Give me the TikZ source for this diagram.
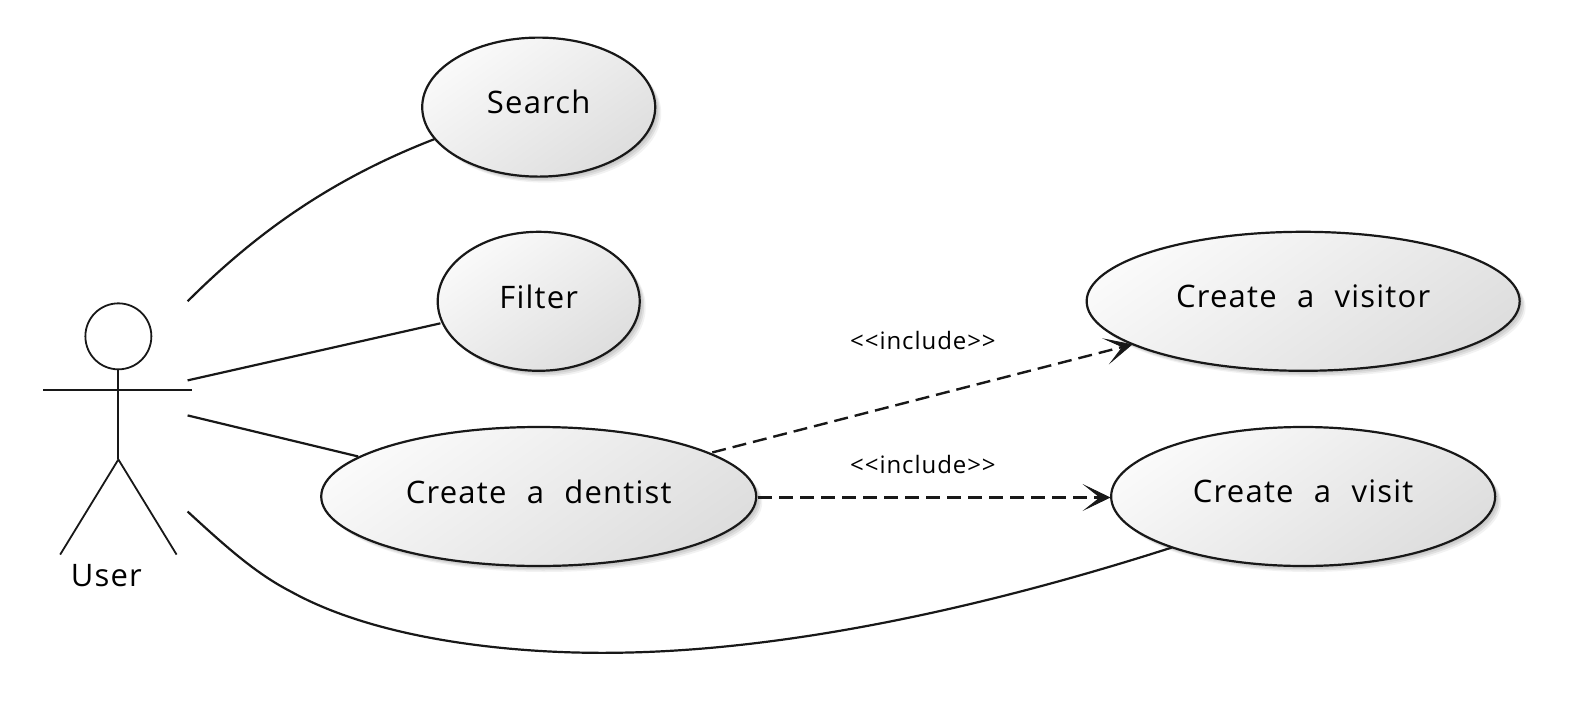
\documentclass[tikz,border=0pt]{standalone}
\usepackage{fontspec}
\setmainfont[LetterSpace=3.9,WordSpace=2.2]{Open Sans}
\usetikzlibrary{arrows.meta,shadows,calc,shapes.geometric}
\definecolor{ink}{RGB}{24,24,24}
\tikzset{
 x=1.0032bp,y=-1.001bp,
 softshadow/.style={
   drop shadow={shadow xshift=1.5bp,shadow yshift=-1.5bp,opacity=0.06,fill=black},
   drop shadow={shadow xshift=3bp,shadow yshift=-3bp,opacity=0.07,fill=black},
   drop shadow={shadow xshift=4.5bp,shadow yshift=-4.5bp,opacity=0.07,fill=black},
   drop shadow={shadow xshift=6bp,shadow yshift=-6bp,opacity=0.05,fill=black}},
 usecase/.style={ellipse,draw=ink,line width=2.2bp,minimum width=#1,minimum height=139bp,inner sep=0pt,
   softshadow,
   top color=white!98!black,bottom color=black!13,shading angle=35,
   text=black,font=\fontsize{31bp}{34bp}\selectfont},
 conn/.style={draw=ink,line width=2.2bp},
 dep/.style={draw=ink,line width=2.4bp,dash pattern=on 14bp off 7bp,-{Stealth[length=28bp,width=27bp,inset=17bp,line width=0.8bp]}},
 actorline/.style={draw=ink,line width=1.8bp},
 lbl/.style={font=\fontsize{24bp}{28bp}\selectfont,text=black,inner sep=0pt},
}
\newcommand{\uptext}[1]{\raisebox{10bp}{#1}}
\begin{document}
\begin{tikzpicture}
\useasboundingbox (0bp,0bp) rectangle (1573bp,-725bp);
\fill[white] (0bp,0bp) rectangle (1573bp,-725bp);
\node[usecase=233bp] (search) at (537,107) {\uptext{Search}};
\node[usecase=202bp] (filter) at (537,301) {\uptext{Filter}};
\node[usecase=435bp] (dentist) at (537,496) {\uptext{Create a dentist}};
\node[usecase=433bp] (visitor) at (1299,301) {\uptext{Create a visitor}};
\node[usecase=384bp] (visit) at (1299,496) {\uptext{Create a visit}};
% actor
\node[circle,draw=ink,line width=1.8bp,minimum size=66bp,inner sep=0pt] (head) at (118,336) {};
\coordinate (hip) at (118,459);
\coordinate (armL) at (43,390);
\coordinate (armR) at (191,390);
\coordinate (footL) at (60,554);
\coordinate (footR) at (176,554);
\draw[actorline] (head.south) -- (hip);
\draw[actorline] (armL) -- (armR);
\draw[actorline] (footL) -- (hip) -- (footR);
\node[font=\fontsize{31bp}{34bp}\selectfont,inner sep=0pt] (user) at (106,575) {User};
% connectors
\coordinate (a1) at (187,301);
\coordinate (a2) at (187,380);
\coordinate (a3) at (187,415);
\coordinate (a4) at (187,511);
\coordinate (e1) at (433,139);
\coordinate (e2) at (439,323);
\coordinate (e3) at (357,456);
\coordinate (e4) at (1168,547);
\draw[conn] (a1) .. controls (255,233) and (330,179) .. (e1);
\draw[conn] (a2) -- (e2);
\draw[conn] (a3) -- (e3);
\draw[conn] (a4) .. controls (225,546) and (255,573) .. (290,591) .. controls (380,641) and (520,654) .. (620,652) .. controls (800,649) and (1000,601) .. (e4);
\coordinate (d1) at (710,452);
\coordinate (d2) at (1129,344);
\coordinate (d3) at (756,497);
\coordinate (d4) at (1107,497);
\draw[dep] (d1) -- (d2);
\draw[dep] (d3) -- (d4);
\node[lbl] (inc1) at (920,340) {{<}{<}include{>}{>}};
\node[lbl] (inc2) at (920,464) {{<}{<}include{>}{>}};
\end{tikzpicture}
\end{document}
